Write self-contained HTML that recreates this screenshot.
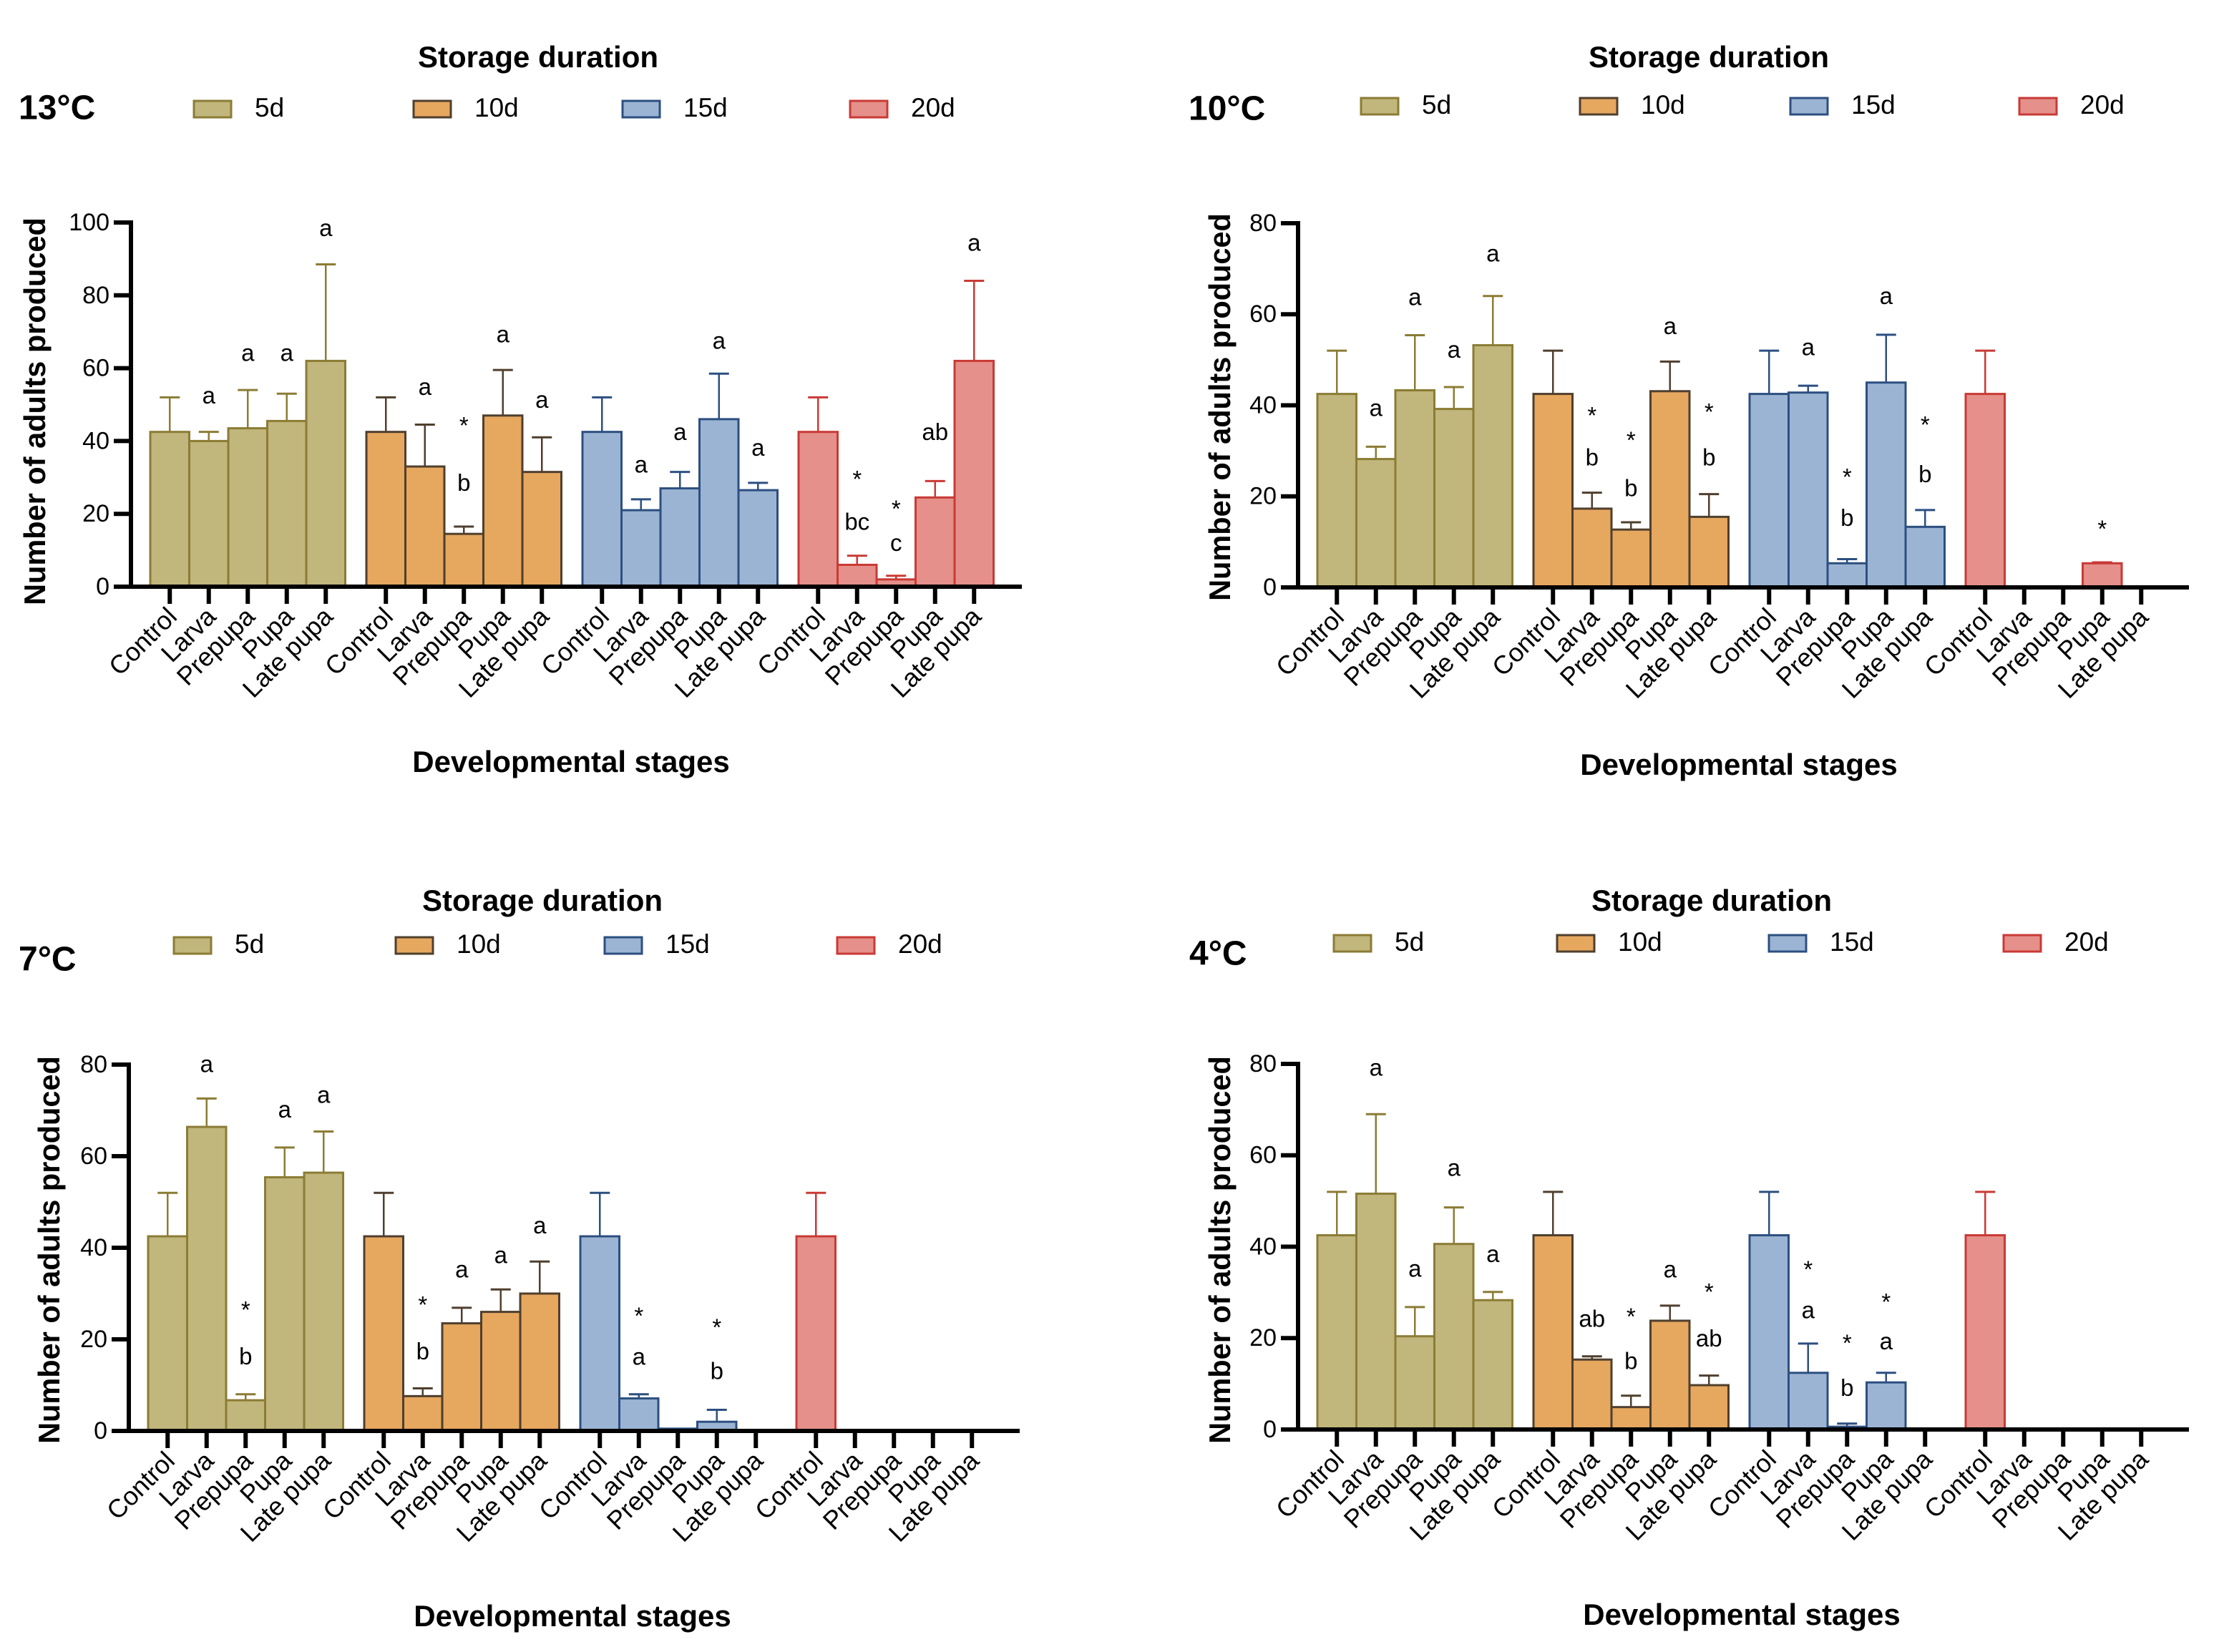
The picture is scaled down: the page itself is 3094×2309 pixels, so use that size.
<!DOCTYPE html>
<html><head><meta charset="utf-8"><style>
html,body{margin:0;padding:0;background:#fff;}
svg{display:block;font-family:"Liberation Sans",Arial,sans-serif;}
</style></head><body>
<svg id="fig" width="3094" height="2309" viewBox="0 0 3094 2309" xmlns="http://www.w3.org/2000/svg"></svg>
<script>
const stages = ["Control","Larva","Prepupa","Pupa","Late pupa"];
const durations = ["5d","10d","15d","20d"];
const fills = ["#c1b67c","#e6a75f","#9cb4d3","#e5908a"];
const strokes = ["#8b7c35","#4f3f2e","#2c4f80","#c93a35"];

const t13_means = [[42.5,40,43.5,45.5,62],[42.5,33,14.5,47,31.5],[42.5,21,27,46,26.5],[42.5,6,2,24.5,62]];
const t13_errs  = [[52,42.5,54,53,88.5],[52,44.5,16.5,59.5,41],[52,24,31.5,58.5,28.5],[52,8.5,3,29,84]];
const t13_labels = [
 [[],[["a",52]],[["a",63.7]],[["a",63.7]],[["a",98]]],
 [[],[["a",54.4]],[["*",45.7],["b",28]],[["a",68.8]],[["a",50.8]]],
 [[],[["a",33]],[["a",42]],[["a",67]],[["a",37.7]]],
 [[],[["*",31],["bc",17.3]],[["*",22.8],["c",11.5]],[["ab",42]],[["a",94]]]];

const t10_means = [[42.5,28.2,43.3,39.2,53.2],[42.5,17.3,12.7,43.1,15.5],[42.5,42.8,5.3,45,13.3],[42.5,0,0,5.3,0]];
const t10_errs  = [[52,30.9,55.4,44,64],[52,20.8,14.3,49.6,20.5],[52,44.3,6.2,55.5,17],[52,0,0,5.5,0]];
const t10_labels = [
 [[],[["a",39]],[["a",63.4]],[["a",51.8]],[["a",73]]],
 [[],[["*",38.9],["b",28.2]],[["*",33.5],["b",21.4]],[["a",57]],[["*",39.7],["b",28.2]]],
 [[],[["a",52.4]],[["*",25.4],["b",14.9]],[["a",63.6]],[["*",36.9],["b",24.5]]],
 [[],[],[],[["*",14]],[]]];

const t7_means = [[42.5,66.4,6.7,55.4,56.4],[42.5,7.6,23.5,26,30],[42.5,7.1,0.5,2,0],[42.5,0,0,0,0]];
const t7_errs  = [[52,72.6,8,61.9,65.4],[52,9.3,26.9,30.9,37],[52,8,0.5,4.6,0],[52,0,0,0,0]];
const t7_labels = [
 [[],[["a",79.7]],[["*",27.6],["b",15.9]],[["a",69.8]],[["a",73]]],
 [[],[["*",28.7],["b",17]],[["a",34.9]],[["a",38]],[["a",44.5]]],
 [[],[["*",26.3],["a",15.8]],[],[["*",23.8],["b",12.7]],[]],
 [[],[],[],[],[]]];

const t4_means = [[42.5,51.6,20.4,40.6,28.3],[42.5,15.3,4.9,23.8,9.7],[42.5,12.4,0.6,10.3,0],[42.5,0,0,0,0]];
const t4_errs  = [[52,69,26.8,48.6,30.1],[52,16,7.4,27.1,11.8],[52,18.8,1.3,12.4,0],[52,0,0,0,0]];
const t4_labels = [
 [[],[["a",78.8]],[["a",34.8]],[["a",56.9]],[["a",38]]],
 [[],[["ab",23.8]],[["*",25.9],["b",14.6]],[["a",34.6]],[["*",31.3],["ab",19.5]]],
 [[],[["*",36.2],["a",25.7]],[["*",20.1],["b",8.7]],[["*",29.1],["a",18.9]],[]],
 [[],[],[],[],[]]];

const ticks100 = [0,20,40,60,80,100];
const ticks80 = [0,20,40,60,80];

const NS = "http://www.w3.org/2000/svg";
const svg = document.getElementById("fig");
function mk(tag, attrs, parent){
  const e = document.createElementNS(NS, tag);
  for (const k in attrs) e.setAttribute(k, attrs[k]);
  (parent||svg).appendChild(e);
  return e;
}
function txt(s, attrs, parent){ const e = mk("text", attrs, parent); e.textContent = s; return e; }

function panel(cfg){
  const g = mk("g", {});
  
  
  const yScale = v => cfg.Y0 - (v/cfg.ymax)*(cfg.Y0-cfg.Ytop);
  const barW = 54.5, pitch = 302, off = 27;
  const xBar = (gi, bi) => cfg.X0 + off + gi*pitch + bi*barW;

  let t = txt("Storage duration", {x:cfg.legTitleX, y:cfg.legTitleY, "font-size":42, "font-weight":"bold", "text-anchor":"middle", "dominant-baseline":"middle"}, g);
  
  
  t = txt(cfg.temp, {x:cfg.tempX, y:cfg.tempY, "font-size":48, "font-weight":"bold", "dominant-baseline":"middle"}, g);
  
  
  durations.forEach((d, i) => {
    const lg = mk("g", {}, g);
    
    
    mk("rect", {x:cfg.legX[i], y:cfg.legY-11, width:52, height:23, fill:fills[i], stroke:strokes[i], "stroke-width":3}, lg);
    txt(d, {x:cfg.legX[i]+85, y:cfg.legY+1, "font-size":37, "dominant-baseline":"middle"}, lg);
  });

  cfg.means.forEach((grp, gi) => {
    grp.forEach((v, bi) => {
      const x = xBar(gi, bi);
      const cx = x + barW/2;
      const e = cfg.errs[gi][bi];
      if (e > v) {
        const el = mk("line", {x1:cx, x2:cx, y1:yScale(v), y2:yScale(e), stroke:strokes[gi], "stroke-width":2.5}, g);
        
        
        mk("line", {x1:cx-14, x2:cx+14, y1:yScale(e), y2:yScale(e), stroke:strokes[gi], "stroke-width":3}, g);
      }
      if (v > 0) {
        const r = mk("rect", {x:x, y:yScale(v), width:barW, height:yScale(0)-yScale(v), fill:fills[gi], stroke:strokes[gi], "stroke-width":3}, g);
        
        
      }
      cfg.labels[gi][bi].forEach(l => {
        const lt = txt(l[0], {x:cx, y:yScale(l[1]) + (l[0]==="*"?10:0), "font-size":33, "text-anchor":"middle", "dominant-baseline":"middle"}, g);
        
        
      });
      mk("line", {x1:cx, x2:cx, y1:cfg.Y0, y2:cfg.Y0+24, stroke:"#000", "stroke-width":6}, g);
      const ct = txt(stages[bi], {x:0, y:0, "font-size":36, "text-anchor":"end", transform:`translate(${cx+12},${cfg.Y0+44}) rotate(-45)`}, g);
      
      
    });
  });

  const ya = mk("line", {x1:cfg.X0, x2:cfg.X0, y1:cfg.Ytop-3, y2:cfg.Y0+3, stroke:"#000", "stroke-width":6}, g);
  
  
  const xa = mk("line", {x1:cfg.X0-24, x2:cfg.X0+1245, y1:cfg.Y0, y2:cfg.Y0, stroke:"#000", "stroke-width":6}, g);
  
  
  cfg.ticks.forEach(tv => {
    const y = yScale(tv);
    mk("line", {x1:cfg.X0-24, x2:cfg.X0, y1:y, y2:y, stroke:"#000", "stroke-width":6}, g);
    const tl = txt(String(tv), {x:cfg.X0-30, y:y+2, "font-size":34, "text-anchor":"end", "dominant-baseline":"middle"}, g);
    
    
  });
  const yt = txt("Number of adults produced", {x:0, y:0, "font-size":41.5, "font-weight":"bold", "text-anchor":"middle", "dominant-baseline":"middle", transform:`translate(${cfg.yTitleX},${cfg.yTitleY}) rotate(-90)`}, g);
  
  
  const xt = txt("Developmental stages", {x:cfg.xTitleX, y:cfg.xTitleY, "font-size":42, "font-weight":"bold", "text-anchor":"middle", "dominant-baseline":"middle"}, g);
  
  
}

panel({name:"panel-13c", temp:"13°C", X0:183, Y0:820, Ytop:311, ymax:100, ticks:ticks100,
  means:t13_means, errs:t13_errs, labels:t13_labels,
  legTitleX:752, legTitleY:83, tempX:26, tempY:154, legX:[271,578,870,1188], legY:152,
  yTitleX:52, yTitleY:575, xTitleX:798, xTitleY:1068});
panel({name:"panel-10c", temp:"10°C", X0:1814, Y0:821, Ytop:312, ymax:80, ticks:ticks80,
  means:t10_means, errs:t10_errs, labels:t10_labels,
  legTitleX:2388, legTitleY:83, tempX:1661, tempY:155, legX:[1902,2208,2502,2822], legY:148,
  yTitleX:1708, yTitleY:569, xTitleX:2430, xTitleY:1072});
panel({name:"panel-7c", temp:"7°C", X0:180, Y0:2000, Ytop:1488, ymax:80, ticks:ticks80,
  means:t7_means, errs:t7_errs, labels:t7_labels,
  legTitleX:758, legTitleY:1262, tempX:26, tempY:1344, legX:[243,553,845,1170], legY:1321,
  yTitleX:72, yTitleY:1747, xTitleX:800, xTitleY:2262});
panel({name:"panel-4c", temp:"4°C", X0:1814, Y0:1998, Ytop:1487, ymax:80, ticks:ticks80,
  means:t4_means, errs:t4_errs, labels:t4_labels,
  legTitleX:2392, legTitleY:1262, tempX:1662, tempY:1336, legX:[1864,2176,2472,2800], legY:1318,
  yTitleX:1708, yTitleY:1747, xTitleX:2434, xTitleY:2260});
</script>
</body></html>
